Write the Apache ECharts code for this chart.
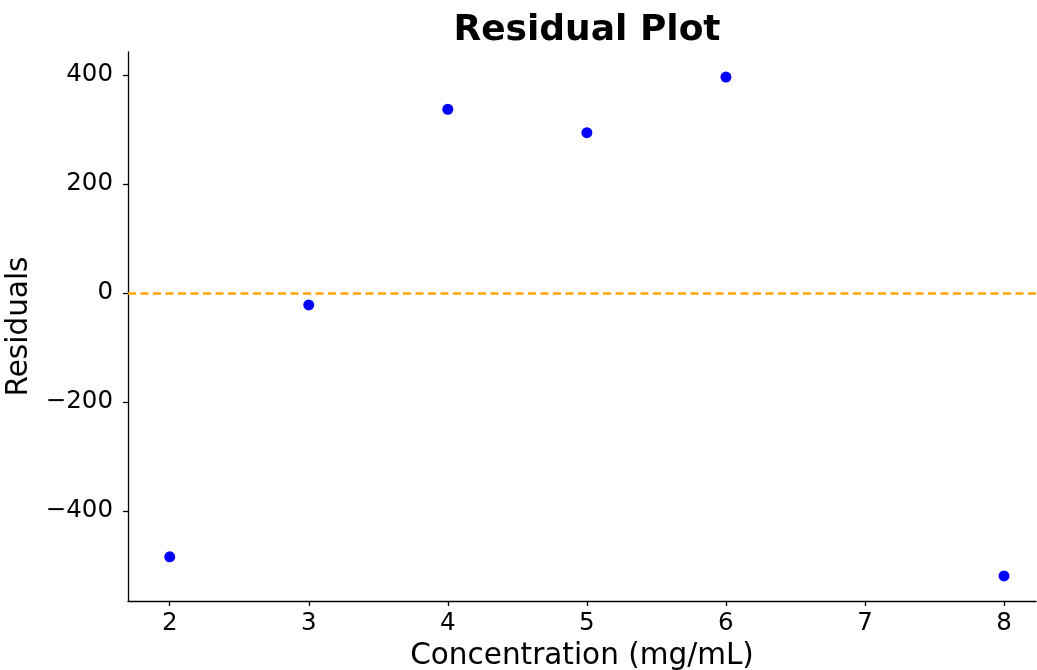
<!DOCTYPE html>
<html><head><meta charset="utf-8">
<script src="https://cdn.jsdelivr.net/npm/echarts@6/dist/echarts.min.js"></script>
<style>html,body{margin:0;padding:0;background:#fff}#c{width:1037px;height:670px}</style>
</head><body><div id="c"></div>
<script>
const concentrations = [2, 3, 4, 5, 6, 8];
const residuals = [-484, -22, 337, 294, 396, -519];
const xTicks = [2, 3, 4, 5, 6, 7, 8];
const yTicks = [-400, -200, 0, 200, 400];

const font = 'DejaVu Sans';
const fmt = v => String(v).replace('-', '\u2212');
const chart = echarts.init(document.getElementById('c'));
chart.setOption({
  animation: false,
  title: { text: 'Residual Plot', left: 582, textAlign: 'center', top: 8,
    textStyle: { fontFamily: font, fontWeight: 'bold', fontSize: 36, color: '#000' } },
  grid: { left: 128, right: 1, top: 52, bottom: 69, containLabel: false, outerBoundsMode: 'none' },
  xAxis: {
    type: 'value', min: 1.7, max: 8.23,
    name: 'Concentration (mg/mL)', nameLocation: 'middle', nameGap: 39,
    nameTextStyle: { fontFamily: font, fontSize: 29.5, color: '#000' },
    axisLine: { show: true, onZero: false, lineStyle: { color: '#000', width: 1.3 } },
    axisTick: { show: true, length: 5, lineStyle: { color: '#000', width: 1.3 }, customValues: xTicks },
    axisLabel: { fontFamily: font, fontSize: 24.5, color: '#000', margin: 10, customValues: xTicks, formatter: fmt },
    splitLine: { show: false }
  },
  yAxis: {
    type: 'value', min: -565, max: 442,
    name: 'Residuals', nameLocation: 'middle', nameGap: 89,
    nameTextStyle: { fontFamily: font, fontSize: 29.5, color: '#000' },
    axisLine: { show: true, onZero: false, lineStyle: { color: '#000', width: 1.3 } },
    axisTick: { show: true, length: 5, lineStyle: { color: '#000', width: 1.3 }, customValues: yTicks },
    axisLabel: { fontFamily: font, fontSize: 24.5, color: '#000', margin: 15, customValues: yTicks, formatter: fmt },
    splitLine: { show: false }
  },
  series: [{
    type: 'scatter', symbolSize: 11,
    itemStyle: { color: '#0000ff', opacity: 1 },
    data: concentrations.map((c, i) => [c, residuals[i]]),
    markLine: {
      silent: true, symbol: 'none', label: { show: false },
      lineStyle: { color: '#FFA500', type: [8, 4.5], width: 2.5 },
      data: [{ yAxis: 0 }]
    }
  }]
});
</script></body></html>
